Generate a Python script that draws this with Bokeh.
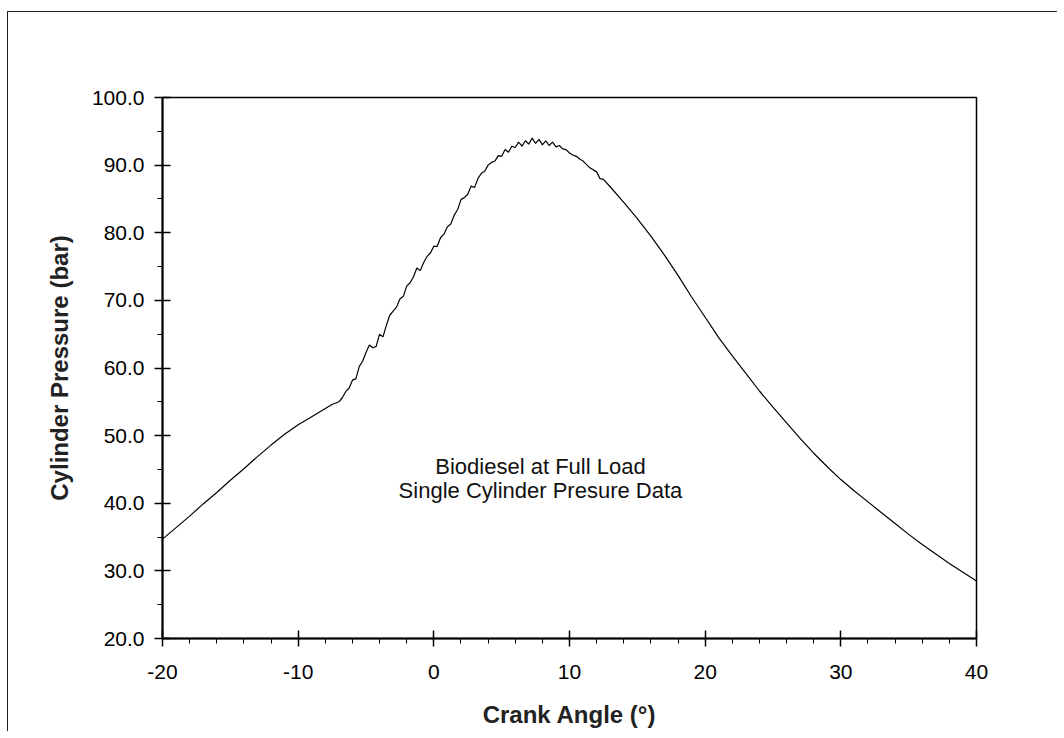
from bokeh.plotting import figure
from bokeh.models import FixedTicker, Label
from bokeh.embed import file_html
from bokeh.resources import INLINE

# Crank angle (deg) and cylinder pressure (bar)
crank_angle = [
    -20, -19, -18, -17, -16, -15, -14, -13, -12, -11, -10, -9, -8, -7.5, -7,
    -6.75, -6.5, -6.25, -6.0, -5.75, -5.5, -5.25, -5.0, -4.75, -4.5, -4.25,
    -4.0, -3.75, -3.5, -3.25, -3.0, -2.75, -2.5, -2.25, -2.0, -1.75, -1.5,
    -1.25, -1.0, -0.75, -0.5, -0.25, 0.0, 0.25, 0.5, 0.75, 1.0, 1.25, 1.5,
    1.75, 2.0, 2.25, 2.5, 2.75, 3.0, 3.25, 3.5, 3.75, 4.0, 4.25, 4.5, 4.75,
    5.0, 5.25, 5.5, 5.75, 6.0, 6.25, 6.5, 6.75, 7.0, 7.25, 7.5, 7.75, 8.0,
    8.25, 8.5, 8.75, 9.0, 9.25, 9.5, 9.75, 10.0, 10.25, 10.5, 10.75, 11.0,
    11.5, 12.0, 12.25, 12.5, 13.0, 14, 15, 16, 17, 18, 19, 20, 21, 22, 23,
    24, 25, 26, 27, 28, 29, 30, 31, 32, 33, 34, 35, 36, 37, 38, 39, 40,
]
pressure = [
    34.7, 36.4, 38.1, 39.9, 41.6, 43.4, 45.1, 46.9, 48.6, 50.2, 51.6, 52.8, 54.0, 54.6, 55.0,
    55.6, 56.5, 57.0, 58.2, 58.4, 60.2, 61.0, 62.3, 63.4, 63.0, 63.2,
    65.0, 64.6, 66.3, 67.8, 68.4, 69.0, 70.2, 70.6, 72.1, 72.6, 73.5,
    74.8, 74.4, 75.6, 76.5, 77.0, 78.0, 78.0, 79.3, 79.8, 80.9, 81.3, 82.6,
    83.4, 84.9, 85.2, 85.7, 86.9, 86.7, 88.0, 88.8, 89.1, 90.0, 90.4, 90.6, 91.4,
    91.3, 92.3, 91.9, 92.8, 92.6, 93.4, 92.8, 93.6, 93.1, 94.0, 93.2, 93.8, 93.0,
    93.6, 92.9, 93.4, 92.7, 92.9, 92.4, 92.3, 91.8, 91.5, 91.3, 90.9, 90.6,
    89.6, 89.0, 88.0, 87.9, 86.8, 84.5, 82.1, 79.5, 76.7, 73.7, 70.5, 67.5, 64.5, 61.8, 59.2,
    56.6, 54.2, 51.9, 49.6, 47.4, 45.4, 43.5, 41.8, 40.2, 38.6, 37.0, 35.4, 33.9, 32.5, 31.1, 29.8, 28.5,
]

x_ticks = [-20, -10, 0, 10, 20, 30, 40]
x_tick_labels = ["-20", "-10", "0", "10", "20", "30", "40"]
x_minor = [-18, -16, -14, -12, -8, -6, -4, -2, 2, 4, 6, 8, 12, 14, 16, 18,
           22, 24, 26, 28, 32, 34, 36, 38]
y_ticks = [20, 30, 40, 50, 60, 70, 80, 90, 100]
y_tick_labels = ["20.0", "30.0", "40.0", "50.0", "60.0", "70.0", "80.0", "90.0", "100.0"]
y_minor = [25, 35, 45, 55, 65, 75, 85, 95]

note_lines = ["Biodiesel at Full Load", "Single Cylinder Presure Data"]

FONT = "Liberation Sans"

p = figure(width=1050, height=720, output_backend="svg", toolbar_location=None,
           x_range=(-20, 40), y_range=(20, 100),
           min_border_left=154, min_border_right=82, min_border_top=85,
           min_border_bottom=94)
p.margin = (11, 0, 0, 7)
p.styles = {"border-top": "1px solid #222", "border-left": "1px solid #222",
            "border-right": "none", "border-bottom": "none", "outline": "none",
            "box-shadow": "none"}
p.background_fill_color = "white"
p.border_fill_color = "white"
p.xgrid.visible = False
p.ygrid.visible = False
p.outline_line_color = "black"
p.outline_line_width = 1.5

p.line(crank_angle, pressure, line_color="black", line_width=1.2)

for ax in (p.xaxis[0], p.yaxis[0]):
    ax.axis_line_color = "black"
    ax.axis_line_width = 2
    ax.major_tick_line_color = "black"
    ax.major_tick_line_width = 1.5
    ax.minor_tick_line_color = "black"
    ax.minor_tick_line_width = 1
    ax.major_label_text_font = FONT
    ax.major_label_text_font_size = "21px"
    ax.major_label_text_color = "black"
    ax.axis_label_text_font = FONT
    ax.axis_label_text_font_size = "24px"
    ax.axis_label_text_font_style = "bold"
    ax.axis_label_text_color = "#222"
    ax.major_tick_in = 8
    ax.major_tick_out = 8
    ax.minor_tick_in = 0
    ax.minor_tick_out = 5

p.xaxis[0].ticker = FixedTicker(ticks=x_ticks, minor_ticks=x_minor)
p.yaxis[0].ticker = FixedTicker(ticks=y_ticks, minor_ticks=y_minor)
p.xaxis[0].major_label_overrides = dict(zip(x_ticks, x_tick_labels))
p.yaxis[0].major_label_overrides = dict(zip(y_ticks, y_tick_labels))
p.xaxis[0].axis_label = "Crank Angle (°)"
p.yaxis[0].axis_label = "Cylinder Pressure (bar)"
p.xaxis[0].major_label_standoff = 18
p.yaxis[0].major_label_standoff = 10
p.xaxis[0].axis_label_standoff = 19
p.yaxis[0].axis_label_standoff = 16

for txt, yv in zip(note_lines, [45.4, 41.9]):
    p.add_layout(Label(x=7.86, y=yv, text=txt, text_align="center", text_baseline="middle",
                       text_font=FONT, text_font_size="22px", text_color="#111"))

open("out.html", "w").write(file_html(p, INLINE))
